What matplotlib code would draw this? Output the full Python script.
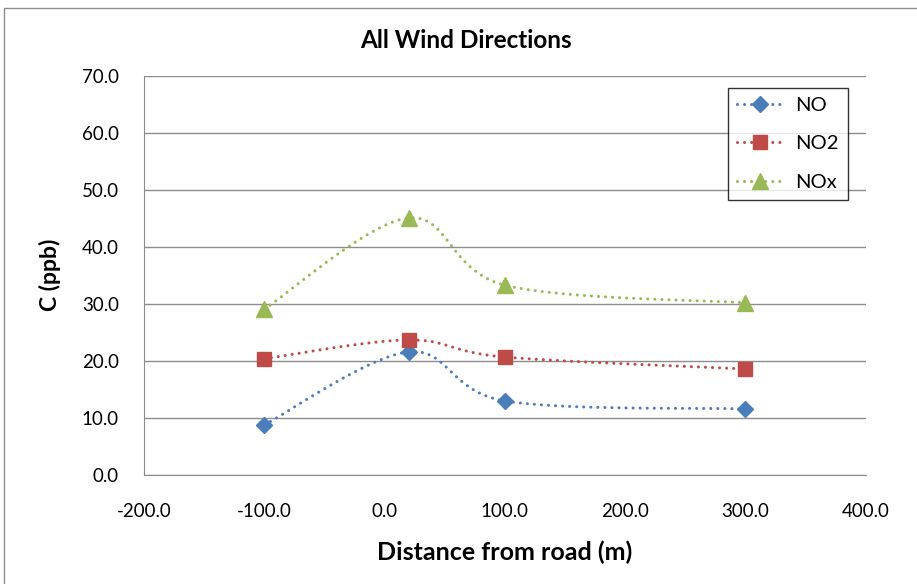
import matplotlib

matplotlib.use("Agg")

import matplotlib.pyplot as plt
import numpy as np
from matplotlib.patches import Rectangle

plt.rcParams["font.family"] = ["Lato", "DejaVu Sans"]

distance = [-100.0, 20.0, 100.0, 300.0]
no_vals = [8.8, 21.6, 13.0, 11.6]
no2_vals = [20.4, 23.7, 20.7, 18.6]
nox_vals = [29.1, 45.1, 33.3, 30.2]

series = [
    ("NO", no_vals, "#4a7ebb", "D", 8.5),
    ("NO2", no2_vals, "#be4b48", "s", 10),
    ("NOx", nox_vals, "#98b954", "^", 11),
]

DOTS = (0, (0.01, 2.3))


def smooth(xs, ys, n=40):
    # Catmull-Rom style Bezier like Excel's smoothed line
    pts = np.column_stack([xs, ys]).astype(float)
    ext = np.vstack([pts[0], pts, pts[-1]])
    out = []
    t = np.linspace(0, 1, n)[:, None]
    for i in range(1, len(ext) - 2):
        p0, p1, p2, p3 = ext[i - 1], ext[i], ext[i + 1], ext[i + 2]
        c1 = p1 + (p2 - p0) / 6
        c2 = p2 - (p3 - p1) / 6
        seg = ((1 - t) ** 3) * p1 + 3 * ((1 - t) ** 2) * t * c1 + 3 * (1 - t) * t ** 2 * c2 + t ** 3 * p2
        out.append(seg)
    curve = np.vstack(out)
    return curve[:, 0], curve[:, 1]


fig = plt.figure(figsize=(9.17, 5.84), dpi=100)
fig.patches.append(Rectangle((4 / 917, -0.01), 1.0, 1 - 8 / 584 + 0.01, transform=fig.transFigure,
                             fill=False, edgecolor="#8c8c8c", linewidth=1))
ax = fig.add_axes([0.157, 0.1866, 0.787, 0.6833])

handles = []
for name, vals, color, marker, ms in series:
    sx, sy = smooth(distance, vals)
    ax.plot(sx, sy, color=color, linestyle=DOTS, linewidth=2.2, dash_capstyle="round")
    ax.plot(distance, vals, linestyle="none", marker=marker, markersize=ms, color=color,
            markeredgecolor=color)
    h, = ax.plot([], [], color=color, linestyle=DOTS, linewidth=2.2, marker=marker,
                 markersize=ms, label=name, dash_capstyle="round")
    handles.append(h)

ax.set_xlim(-200, 400)
ax.set_ylim(0, 70)
ax.set_xticks(np.arange(-200, 401, 100))
ax.set_yticks(np.arange(0, 71, 10))
ax.set_xticklabels([f"{v:.1f}" for v in np.arange(-200, 401, 100)])
ax.set_yticklabels([f"{v:.1f}" for v in np.arange(0, 71, 10)])
ax.tick_params(labelsize=13.5, length=0)
ax.tick_params(axis="x", pad=20)
ax.tick_params(axis="y", pad=18)
ax.yaxis.grid(True, color="#8c8c8c", linewidth=1)
ax.set_axisbelow(True)
for side in ["top", "right"]:
    ax.spines[side].set_visible(False)
for side in ["left", "bottom"]:
    ax.spines[side].set_color("#8c8c8c")

fig.text(505 / 917, 1 - 552 / 584, "Distance from road (m)", fontsize=18, fontweight="bold",
         ha="center", va="center")
fig.text(50 / 917, 1 - 275 / 584, "C (ppb)", fontsize=16.5, fontweight="bold",
         ha="center", va="center", rotation=90)
fig.text(466 / 917, 1 - 40 / 584, "All Wind Directions", fontsize=17.5, fontweight="bold",
         ha="center", va="center")

leg = fig.legend(handles=handles, loc="upper left", bbox_to_anchor=(728 / 917, 1 - 88 / 584),
                 fontsize=14.5, frameon=True, fancybox=False, handlelength=2.3,
                 handletextpad=0.6, labelspacing=1.05, borderpad=0.45, borderaxespad=0)
leg.get_frame().set_edgecolor("black")
leg.get_frame().set_linewidth(1)

fig.savefig("out.png", dpi=100)
